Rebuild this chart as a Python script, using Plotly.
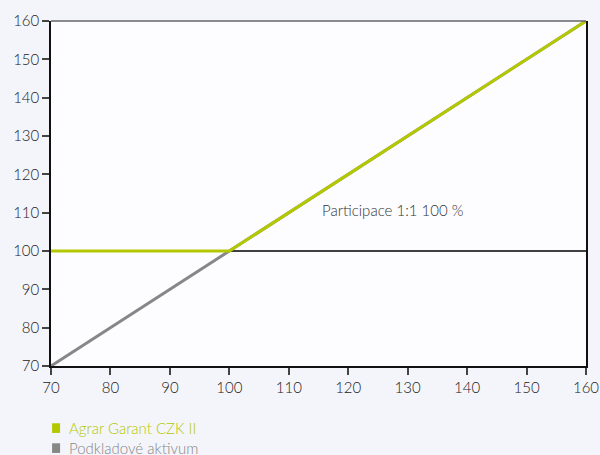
import plotly.graph_objects as go

# Data
underlying_x = [70, 160]
underlying_y = [70, 160]
fund_x = [70, 100, 160]
fund_y = [100, 100, 160]
ticks = [70, 80, 90, 100, 110, 120, 130, 140, 150, 160]
tick_labels = [str(t) for t in ticks]
series_names = ["Agrar Garant CZK II", "Podkladové aktivum"]
series_colors = ["#b3c800", "#878787"]
annotation_text = "Participace 1:1 100 %"
annotation_pos = (115.3, 110.7)
baseline = 100

FONT = "Lato, Open Sans, sans-serif"

fig = go.Figure()
fig.add_trace(go.Scatter(x=underlying_x, y=underlying_y, mode="lines",
                         line=dict(color=series_colors[1], width=3), showlegend=False,
                         hoverinfo="skip"))
fig.add_trace(go.Scatter(x=fund_x, y=fund_y, mode="lines",
                         line=dict(color=series_colors[0], width=3), showlegend=False,
                         hoverinfo="skip"))

fig.add_shape(type="line", xref="paper", x0=0, x1=1, yref="y", y0=baseline, y1=baseline,
              line=dict(color="#000", width=1.5), layer="below")
fig.add_shape(type="line", xref="paper", x0=0, x1=1, yref="paper", y0=1, y1=1,
              line=dict(color="#666", width=1.5), layer="above")

fig.add_annotation(x=annotation_pos[0], y=annotation_pos[1], text=annotation_text,
                   showarrow=False, xanchor="left", yanchor="middle",
                   font=dict(family=FONT, size=15, color="#333", weight=300))

# Legend (manual)
for i, (name, col) in enumerate(zip(series_names, series_colors)):
    yy = -0.18 - i * 0.058
    fig.add_shape(type="rect", xref="paper", yref="paper",
                  x0=0.002, x1=0.017, y0=yy - 0.014, y1=yy + 0.014,
                  fillcolor=col, line=dict(width=0))
    fig.add_annotation(xref="paper", yref="paper", x=0.030, y=yy, text=name,
                       showarrow=False, xanchor="left", yanchor="middle",
                       font=dict(family=FONT, size=15, color=col, weight=300))

axis_common = dict(
    tickmode="array", tickvals=ticks, ticktext=tick_labels,
    range=[70, 160], showgrid=False, zeroline=False,
    showline=True, linecolor="#111", linewidth=1.5,
    ticks="outside", ticklen=7, tickcolor="#444", tickwidth=1.5,
    tickfont=dict(family=FONT, size=15, color="#222", weight=300),
    automargin=False,
)
fig.update_xaxes(**axis_common, mirror=False)
fig.update_yaxes(**axis_common, mirror=True)

fig.update_layout(
    width=600, height=455,
    margin=dict(l=51, r=14, t=21, b=89),
    paper_bgcolor="#f3f5fb",
    plot_bgcolor="#fdfdff",
    showlegend=False,
)

fig.write_html("out.html", config={"displayModeBar": False},
               post_script="document.body.style.margin='0';document.body.style.overflow='hidden';")
